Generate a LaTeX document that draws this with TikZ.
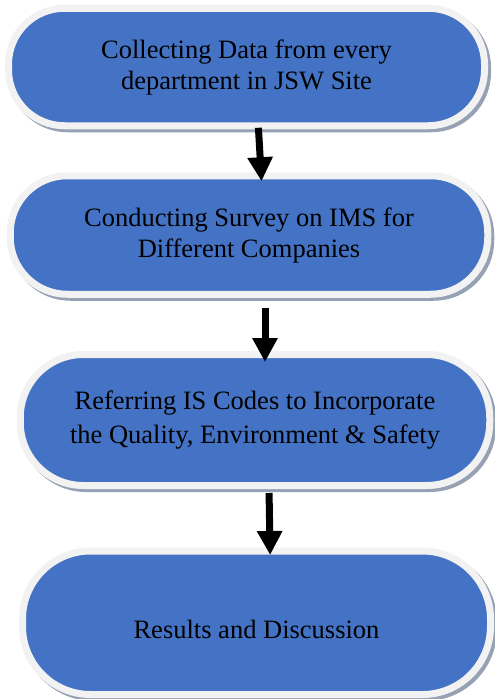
\documentclass[tikz,border=0pt]{standalone}
\usepackage{fontspec}
\setmainfont{Liberation Serif}
\usepackage{tikz}
\usetikzlibrary{shadows,arrows.meta}
\definecolor{stepblue}{HTML}{4472C4}
\definecolor{rimgray}{HTML}{F2F2F2}
\definecolor{shadegray}{HTML}{97A1B4}
\tikzset{
  stagebox/.style={draw=rimgray, fill=stepblue, line width=7pt, inner sep=0pt,
    align=center, font=\fontsize{26.5}{31}\selectfont,
    drop shadow={shadow xshift=3pt, shadow yshift=-3pt, opacity=1,
      fill=shadegray, draw=shadegray, line width=7pt}},
  flowarrow/.style={line width=7pt, -{Triangle[width=24pt,length=24pt]}}
}

\begin{document}
\begin{tikzpicture}[x=1pt,y=-1pt]
\useasboundingbox (0,0) rectangle (495,699);
\node[stagebox, minimum width=476pt, minimum height=117.5pt, rounded corners=56pt] (collect) at (246.5,67) {Collecting Data from every\\department in JSW Site};
\node[stagebox, minimum width=477.5pt, minimum height=118.5pt, rounded corners=57pt] (survey) at (249,235) {Conducting Survey on IMS for\\Different Companies};
\node[stagebox, minimum width=469.5pt, minimum height=131pt, rounded corners=63pt] (codes) at (255,420) {\raisebox{3pt}{Referring IS Codes to Incorporate}\\the Quality, Environment \& Safety};
\node[stagebox, minimum width=468pt, minimum height=143.5pt, rounded corners=68pt] (results) at (256.5,622.75) {\raisebox{-7pt}[17pt][0pt]{Results and Discussion}};
\draw[flowarrow, shorten <=-1.5pt, shorten >=-9pt] ([xshift=12pt]collect.south) -- ([xshift=12pt]survey.north);
\draw[flowarrow, shorten <=10pt, shorten >=-11pt] ([xshift=16pt]survey.south) -- ([xshift=10pt]codes.north);
\draw[flowarrow, shorten <=4pt, shorten >=-7.5pt] ([xshift=14pt]codes.south) -- ([xshift=13.5pt]results.north);
\end{tikzpicture}
\end{document}
